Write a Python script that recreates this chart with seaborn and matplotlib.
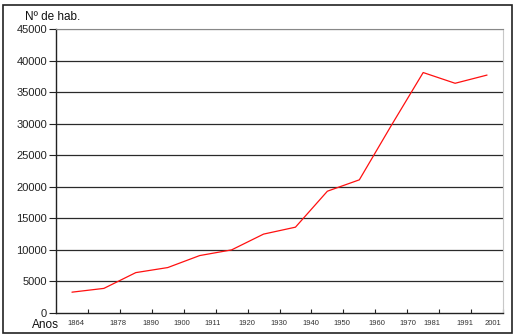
import matplotlib
matplotlib.use("Agg")
import matplotlib.pyplot as plt
import seaborn as sns
import pandas as pd
import numpy as np
from matplotlib.patches import Rectangle

# ---- data ----
years = ["1864", "1878", "1890", "1900", "1911", "1920", "1930", "1940",
         "1950", "1960", "1970", "1981", "1991", "2001"]
habitantes = [3300, 3900, 6400, 7200, 9100, 10000, 12500, 13600,
              19300, 21100, 29700, 38100, 36400, 37700]
y_ticks = [0, 5000, 10000, 15000, 20000, 25000, 30000, 35000, 40000, 45000]

# label placement (layout only, in category units)
label_pos = [0.13, 1.44, 2.48, 3.45, 4.42, 5.49, 6.49, 7.49, 8.46, 9.56,
             10.53, 11.28, 12.32, 13.2]

sns.set_style("white")
plt.rcParams['font.family'] = ['Liberation Sans', 'DejaVu Sans']

df = pd.DataFrame({"pos": np.arange(len(years)), "hab": habitantes})

fig = plt.figure(figsize=(5.15, 3.35), dpi=100)
ax = fig.add_axes([56/515, 1-313/335, (503-56)/515, (313-29)/335])

sns.lineplot(data=df, x="pos", y="hab", ax=ax, color="#ff1010", linewidth=0.9)

ax.set_xlim(-0.5, len(years) - 0.5)
ax.set_ylim(0, 45000)
ax.set_yticks(y_ticks)
ax.set_yticklabels([str(v) for v in y_ticks], fontsize=8, color="#222222")
ax.tick_params(axis="y", direction="out", length=5, width=0.8, pad=1.5, left=True, color="#222222")

ax.set_xticks(label_pos)
ax.set_xticklabels(years, fontsize=5.5, color="#333333")
ax.tick_params(axis="x", which="major", length=0, pad=5)
ax.set_xticks(np.arange(len(years)) + 0.5, minor=True)
ax.tick_params(axis="x", which="minor", direction="in", length=3, width=0.8,
               bottom=True, color="#222222")

ax.set_xlabel("")
ax.set_ylabel("")

for v in y_ticks[1:]:
    ax.axhline(v, color="#2a2a2a" if v != 45000 else "#888888", linewidth=0.9, zorder=1)

for s in ["left", "bottom"]:
    ax.spines[s].set_color("#222222")
    ax.spines[s].set_linewidth(1.0)
ax.spines["right"].set_color("#c8c8c8")
ax.spines["right"].set_linewidth(0.8)
ax.spines["top"].set_color("#888888")
ax.spines["top"].set_linewidth(0.8)

fig.text(25/515, 1-17/335, "Nº de hab.", fontsize=8.5, ha="left", va="center", color="#111111")
fig.text(32/515, 1-325/335, "Anos", fontsize=8.5, ha="left", va="center", color="#111111")

fig.patches.append(Rectangle((3/515, 2/335), 509/515, 328/335, transform=fig.transFigure,
                             fill=False, edgecolor="#222222", linewidth=1.2))

fig.savefig("out.png", dpi=100)
